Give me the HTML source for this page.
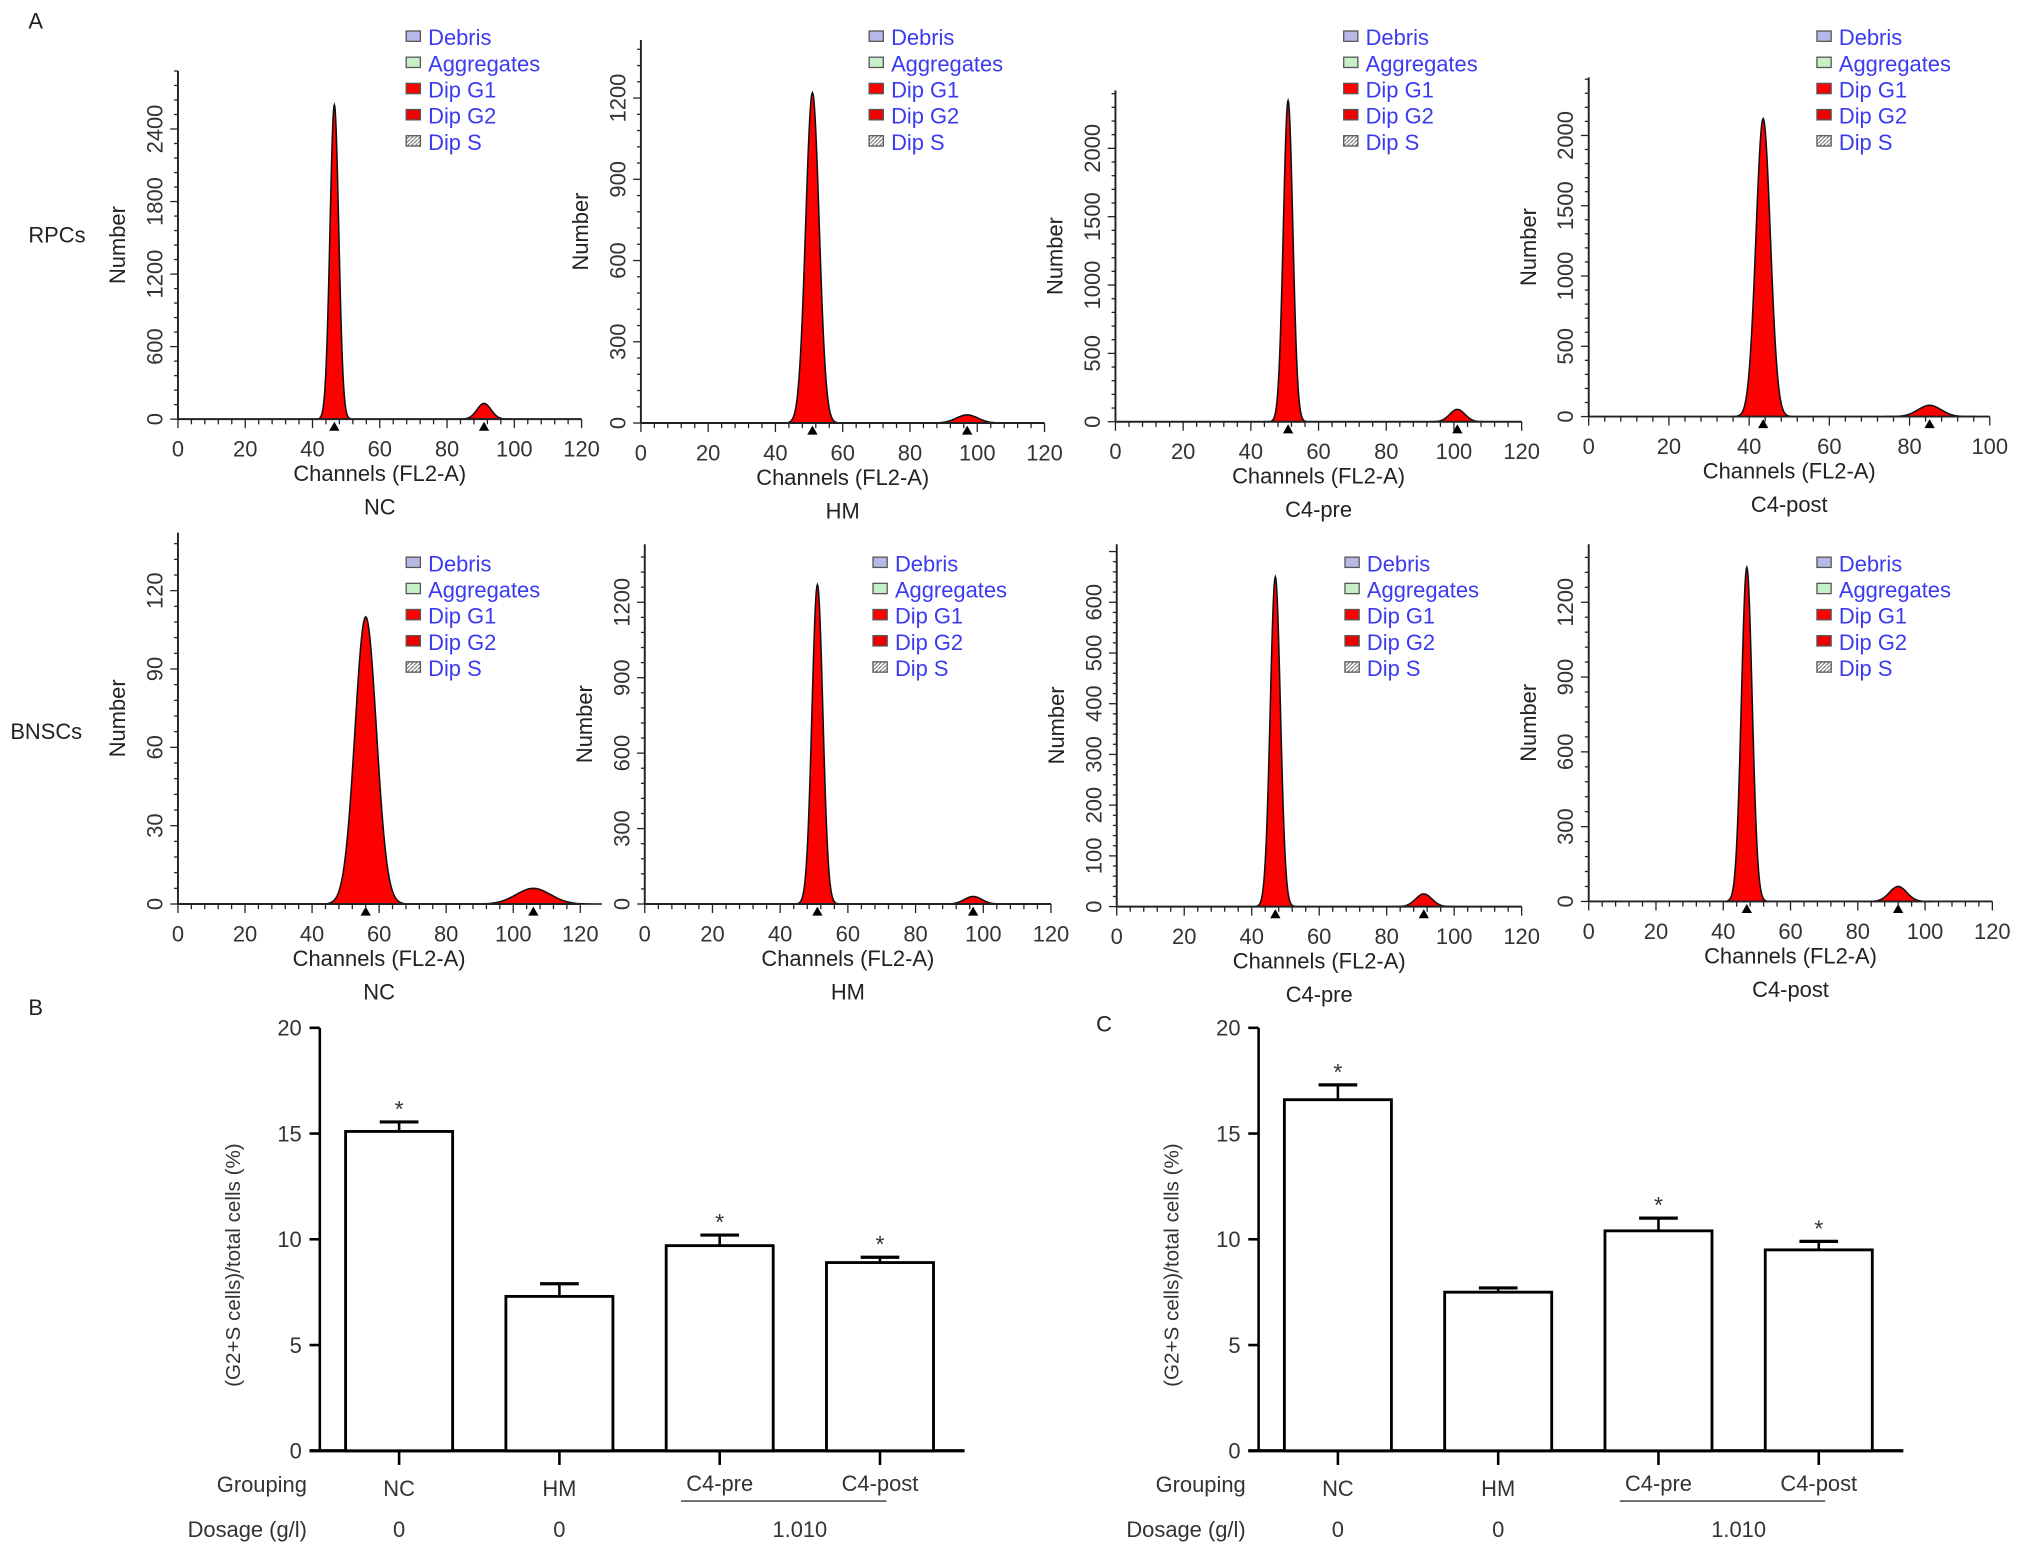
<!DOCTYPE html>
<html><head><meta charset="utf-8">
<style>
html,body{margin:0;padding:0;background:#fff;}
svg{display:block;font-family:"Liberation Sans",Arial,sans-serif;}
</style></head>
<body>
<svg id="fig" width="2022" height="1554" viewBox="0 0 1568 1205" xmlns="http://www.w3.org/2000/svg">
<defs><pattern id="hatch" width="3" height="3" patternUnits="userSpaceOnUse"><path d="M0,3 L3,0" stroke="#666" stroke-width="0.8"/></pattern></defs>
<text x="22" y="22" font-size="17" fill="#222">A</text>
<text x="22" y="787" font-size="17" fill="#222">B</text>
<text x="850" y="800" font-size="17" fill="#222">C</text>
<text x="22" y="188" font-size="17" fill="#222">RPCs</text>
<text x="8" y="573" font-size="17" fill="#222">BNSCs</text>
<g id="hists"></g>
<g id="bars"></g>
</svg>
<script>
// ---- Histogram data ----
const histTitles = ["NC","HM","C4-pre","C4-post","NC","HM","C4-pre","C4-post"];
const histXMax = [120,120,120,100,120,120,120,120];
const histYMax = [2400,1200,2000,2000,120,1200,600,1200];
const histYStep = [600,300,500,500,30,300,100,300];
const g1Center = [46.5,51,51,43.5,56,51,47,47];
const g1Height = [2600,1220,2350,2120,110,1270,650,1340];
const g1Width = [1.3,2.0,1.4,1.8,3.2,1.6,1.5,1.6];
const g2Center = [91,97,101,85,106,97,91,92];
const g2Height = [130,30,90,80,6,30,25,60];
// ---- Layout (positions) ----
const layout = [
 {x0:138,x1:451,yb:325,yt:100},{x0:497,x1:810,yb:328,yt:76},
 {x0:865,x1:1180,yb:327,yt:115},{x0:1232,x1:1543,yb:323,yt:105},
 {x0:138,x1:450,yb:701,yt:458},{x0:500,x1:815,yb:701,yt:467},
 {x0:866,x1:1180,yb:703,yt:467},{x0:1232,x1:1545,yb:699,yt:467}];
const NS="http://www.w3.org/2000/svg";
function mk(tag,attrs,parent){const e=document.createElementNS(NS,tag);for(const k in attrs)e.setAttribute(k,attrs[k]);parent.appendChild(e);return e;}
const H=document.getElementById('hists');
histTitles.forEach((t,i)=>{
 const L=layout[i];
 const g=mk('g',{},H);
 
 
 const xs=v=>L.x0+(L.x1-L.x0)*v/histXMax[i];
 const ys=v=>L.yb-(L.yb-L.yt)*v/histYMax[i];
 function peak(c,h,w,name){
  let d='M'+xs(c-4*w)+','+L.yb;
  for(let k=-4;k<=4.001;k+=0.1){const v=c+k*w;d+=' L'+xs(v).toFixed(2)+','+ys(h*Math.exp(-k*k/2)).toFixed(2);}
  d+=' L'+xs(c+4*w)+','+L.yb+' Z';
  const p=mk('path',{d:d,fill:'#f00',stroke:'#111','stroke-width':1.2},g);
  
  
  const tr=mk('path',{d:`M${xs(c)-4},${L.yb+9} L${xs(c)+4},${L.yb+9} L${xs(c)},${L.yb+2} Z`,fill:'#000'},g);
  
  
 }
 peak(g1Center[i],g1Height[i],g1Width[i],'peak-g1');
 peak(g2Center[i],g2Height[i],g1Width[i]*1.6,'peak-g2');
 const top=L.yt-45;
 mk('line',{x1:L.x0,y1:top,x2:L.x0,y2:L.yb,stroke:'#222','stroke-width':1.5},g);
 mk('line',{x1:L.x0,y1:L.yb,x2:L.x1,y2:L.yb,stroke:'#222','stroke-width':1.5},g);
 for(let v=0;v<=histXMax[i];v+=4){const X=xs(v);mk('line',{x1:X,y1:L.yb,x2:X,y2:L.yb+(v%20==0?7:4),stroke:'#222','stroke-width':1},g);}
 for(let v=0;v<=histXMax[i];v+=20){const tx=mk('text',{x:xs(v),y:L.yb+29,'font-size':17,'text-anchor':'middle',fill:'#333'},g);tx.textContent=v;
  }
 const sub=histYStep[i]/5;
 for(let n=0;ys(n*sub)>=top;n++){const v=n*sub;const Y=ys(v);mk('line',{x1:L.x0-(n%5==0?6:3),y1:Y,x2:L.x0,y2:Y,stroke:'#222','stroke-width':1},g);}
 for(let v=0;v<=histYMax[i];v+=histYStep[i]){const Y=ys(v);const tx=mk('text',{x:0,y:0,'font-size':17,'text-anchor':'middle',fill:'#333',transform:`translate(${L.x0-12},${Y}) rotate(-90)`},g);tx.textContent=v;
  }
 const yt=mk('text',{x:0,y:0,'font-size':17,'text-anchor':'middle',fill:'#222',transform:`translate(${L.x0-41},${(L.yb+top)/2}) rotate(-90)`},g);yt.textContent='Number';
 
 const cx=(L.x0+L.x1)/2;
 const xt=mk('text',{x:cx,y:L.yb+48,'font-size':17,'text-anchor':'middle',fill:'#222'},g);xt.textContent='Channels (FL2-A)';
 
 const tt=mk('text',{x:cx,y:L.yb+74,'font-size':17,'text-anchor':'middle',fill:'#222'},g);tt.textContent=t;
 
 const lx=L.x0+177, ly=(i<4?30:438);
 const items=[['Debris','#b8b8e8'],['Aggregates','#c8f0c8'],['Dip G1','#f00'],['Dip G2','#e00'],['Dip S','url(#hatch)']];
 items.forEach((it,k)=>{const Y=ly+k*20.3;
  const r=mk('rect',{x:lx,y:Y-6,width:11,height:8,fill:it[1],stroke:'#555','stroke-width':1},g);
  
  const lt=mk('text',{x:lx+17,y:Y+5,'font-size':17,fill:'#3a3af0'},g);lt.textContent=it[0];
  });
});

// ---- Bar chart data ----
const barCategories = ["NC","HM","C4-pre","C4-post"];
const dosageLabels = ["0","0","1.010"];
const valuesB = [15.1,7.3,9.7,8.9];
const errorsB = [0.45,0.6,0.5,0.25];
const sigB = [true,false,true,true];
const valuesC = [16.6,7.5,10.4,9.5];
const errorsC = [0.7,0.2,0.6,0.4];
const sigC = [true,false,true,true];
const yTicksBar = [0,5,10,15,20];
const B=document.getElementById('bars');
function barChart(ax,vals,errs,sig,name){
 const g=mk('g',{},B);
 
 
 const yb=1125, yt=797, ys=v=>yb-(yb-yt)*v/20;
 const bw=83, gap=124.3, first=ax+20;
 mk('line',{x1:ax,y1:yt,x2:ax,y2:yb,stroke:'#000','stroke-width':2},g);
 mk('line',{x1:ax-8,y1:yb,x2:ax+500,y2:yb,stroke:'#000','stroke-width':2.5},g);
 yTicksBar.forEach(v=>{mk('line',{x1:ax-8,y1:ys(v),x2:ax,y2:ys(v),stroke:'#000','stroke-width':2},g);
  const tx=mk('text',{x:ax-14,y:ys(v)+6,'font-size':17,'text-anchor':'end',fill:'#333'},g);tx.textContent=v;
  });
 const yl=mk('text',{x:0,y:0,'font-size':16,'text-anchor':'middle',fill:'#333',transform:`translate(${ax-62},${(yb+yt)/2+20}) rotate(-90)`},g);
 yl.textContent='(G2+S cells)/total cells (%)';
 
 vals.forEach((v,k)=>{
  const x=first+k*gap, cx=x+bw/2;
  const r=mk('rect',{x:x,y:ys(v),width:bw,height:yb-ys(v),fill:'#fff',stroke:'#000','stroke-width':2.2},g);
  
  const e=ys(v+errs[k]);
  mk('line',{x1:cx,y1:ys(v),x2:cx,y2:e,stroke:'#000','stroke-width':2},g);
  const cap=mk('line',{x1:cx-15,y1:e,x2:cx+15,y2:e,stroke:'#000','stroke-width':2.5},g);
  
  if(sig[k]){const s=mk('text',{x:cx,y:e-4,'font-size':18,'text-anchor':'middle',fill:'#333'},g);s.textContent='*';
   }
  mk('line',{x1:cx,y1:yb,x2:cx,y2:yb+11,stroke:'#000','stroke-width':2},g);
  const up=(k>=2)?-4:0;
  const cl=mk('text',{x:cx,y:1160+up,'font-size':17,'text-anchor':'middle',fill:'#333'},g);cl.textContent=barCategories[k];
  
 });
 const gl=mk('text',{x:ax-10,y:1157,'font-size':17,'text-anchor':'end',fill:'#333'},g);gl.textContent='Grouping';
 
 const dl=mk('text',{x:ax-10,y:1192,'font-size':17,'text-anchor':'end',fill:'#333'},g);dl.textContent='Dosage (g/l)';
 
 const c0=first+bw/2;
 [c0,c0+gap,c0+2.5*gap].forEach((X,k)=>{const t=mk('text',{x:X,y:1192,'font-size':17,'text-anchor':'middle',fill:'#333'},g);t.textContent=dosageLabels[k];
  });
 mk('line',{x1:c0+2*gap-30,y1:1164,x2:c0+3*gap+5,y2:1164,stroke:'#555','stroke-width':1.3},g);
}
barChart(248,valuesB,errorsB,sigB,'bar-chart-b');
barChart(976,valuesC,errorsC,sigC,'bar-chart-c');
</script>
</body></html>
